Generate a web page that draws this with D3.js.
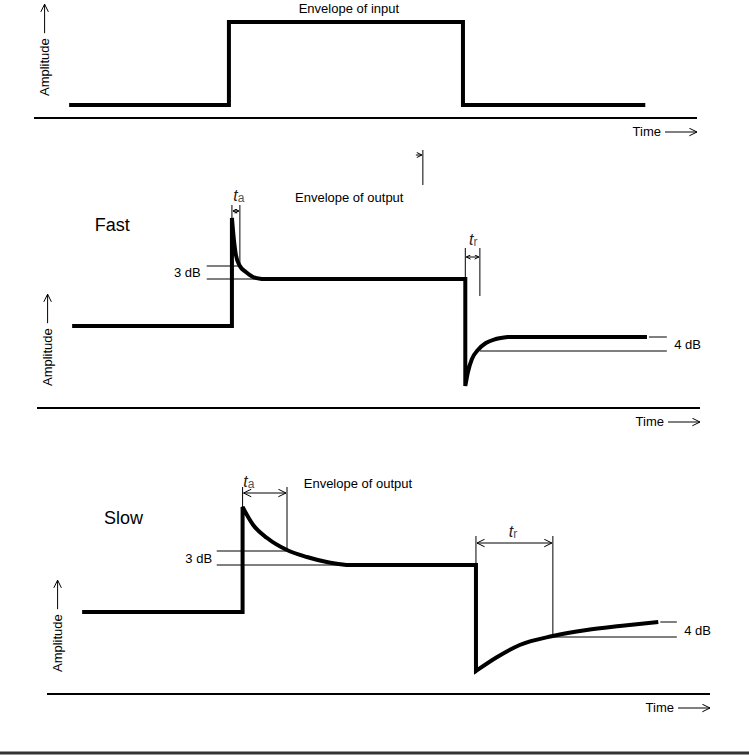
<!DOCTYPE html>
<html>
<head>
<meta charset="utf-8">
<script src="https://cdn.jsdelivr.net/npm/d3@7"></script>
<style>
  body { margin: 0; background: #fff; }
  svg { display: block; font-family: "Liberation Sans", Arial, sans-serif; }
</style>
</head>
<body>
<div id="chart"></div>
<script>
// time runs 0..100 along each time axis, amplitude is in arbitrary units above that axis
const inputEnvelope = [[5.3, 1.3], [29.4, 1.3], [29.4, 9.6], [64.7, 9.6], [64.7, 1.3], [92.2, 1.3]];

const fastBefore  = [[5.3, 8.2], [29.4, 8.2], [29.4, 19.0]];
const fastAttack  = [[29.4, 19.0], [29.7, 16.8], [30.0, 15.3], [30.6, 14.2], [31.5, 13.6], [32.6, 13.1], [33.9, 12.9]];
const fastHold    = [[33.9, 12.9], [64.6, 12.9], [64.6, 2.2]];
const fastRelease = [[64.6, 2.2], [65.0, 3.6], [65.6, 4.9], [66.5, 5.8], [67.7, 6.5], [69.2, 6.9], [71.0, 7.1]];
const fastAfter   = [[71.0, 7.1], [92.0, 7.1]];

const slowBefore  = [[5.3, 8.2], [29.5, 8.2], [29.5, 18.7]];
const slowAttack  = [[29.5, 18.7], [31.1, 16.9], [33.2, 15.6], [36.2, 14.4], [39.2, 13.7], [42.2, 13.2], [45.2, 12.9]];
const slowHold    = [[45.2, 12.9], [64.7, 12.9], [64.7, 2.3]];
const slowRelease = [[64.7, 2.3], [67.9, 3.7], [71.3, 4.9], [76.3, 5.8], [81.4, 6.4], [86.4, 6.8], [92.2, 7.2]];

// reference levels: [t from, t to, amplitude]
const fastLevels = [[25.6, 30.6, 14.2], [25.6, 33.9, 12.9], [92.3, 95.0, 7.1], [66.8, 95.0, 5.7]];
const slowLevels = [[25.6, 36.2, 14.3], [25.6, 45.2, 12.9], [92.5, 95.0, 7.2], [76.3, 95.0, 5.7]];

// bracket ticks: [t, amplitude top, amplitude bottom]
const fastTicks = [[29.4, 20.3, 19.0], [30.6, 20.3, 14.2], [64.6, 16.0, 12.9], [66.8, 16.0, 11.2]];
const slowTicks = [[29.5, 20.7, 18.7], [36.2, 20.7, 14.4], [64.7, 15.8, 12.9], [76.3, 15.8, 5.8]];

// time spans: [t from, t to, amplitude, subscript, label t, label amplitude, anchor]
const fastSpans = [[29.4, 30.6, 19.7, "a", 29.6, 21.2, "start"], [64.6, 66.8, 15.1, "r", 65.8, 16.8, "middle"]];
const slowSpans = [[29.5, 36.2, 20.1, "a", 29.6, 21.2, "start"], [64.7, 76.3, 15.1, "r", 70.3, 16.2, "middle"]];

// text labels: [text, t, amplitude, anchor, size]
const inputLabels = [["Envelope of input", 47.5, 11.0, "middle", 13]];
const fastLabels = [["Fast", 8.7, 18.3, "start", 18], ["Envelope of output", 47.1, 21.1, "middle", 13],
                    ["3 dB", 24.7, 13.55, "end", 13], ["4 dB", 96.1, 6.4, "start", 13]];
const slowLabels = [["Slow", 8.6, 17.6, "start", 18], ["Envelope of output", 46.9, 21.1, "middle", 13],
                    ["3 dB", 24.9, 13.6, "end", 13], ["4 dB", 96.1, 6.4, "start", 13]];

const width = 749, height = 755;

const svg = d3.select("#chart").append("svg")
    .attr("width", width)
    .attr("height", height);

const defs = svg.append("defs");
function addMarker(id, size) {
  defs.append("marker")
      .attr("id", id)
      .attr("viewBox", "0 0 10 10")
      .attr("refX", 9.5).attr("refY", 5)
      .attr("markerWidth", size).attr("markerHeight", size)
      .attr("markerUnits", "userSpaceOnUse")
      .attr("orient", "auto-start-reverse")
    .append("path")
      .attr("d", "M1,0.8 L9.5,5 L1,9.2")
      .attr("fill", "none")
      .attr("stroke", "#000")
      .attr("stroke-width", 10 / size);
}
addMarker("head", 9);
addMarker("headSmall", 5);
addMarker("headTiny", 6);

const panels = [
  { axisY: 118, x0: 34, signal: [[inputEnvelope, d3.curveLinear]], levels: [], ticks: [], spans: [], labels: inputLabels },
  { axisY: 408, x0: 37,
    signal: [[fastBefore, d3.curveLinear], [fastAttack, d3.curveMonotoneX], [fastHold, d3.curveLinear],
             [fastRelease, d3.curveMonotoneX], [fastAfter, d3.curveLinear]],
    levels: fastLevels, ticks: fastTicks, spans: fastSpans, labels: fastLabels, spanHead: "headSmall" },
  { axisY: 694, x0: 47,
    signal: [[slowBefore, d3.curveLinear], [slowAttack, d3.curveMonotoneX], [slowHold, d3.curveLinear],
             [slowRelease, d3.curveMonotoneX]],
    levels: slowLevels, ticks: slowTicks, spans: slowSpans, labels: slowLabels, spanHead: "head" }
];

panels.forEach(function(p, i) {
  const x = d3.scaleLinear().domain([0, 100]).range([p.x0, p.x0 + 663]);
  const y = d3.scaleLinear().domain([0, 10]).range([p.axisY, p.axisY - 100]);
  const g = svg.append("g").attr("class", "panel");

  // time axis
  g.append("line")
      .attr("x1", x(0)).attr("x2", x(100))
      .attr("y1", y(0)).attr("y2", y(0))
      .attr("stroke", "#000").attr("stroke-width", 2);

  g.append("text")
      .attr("x", x(100) - 36).attr("y", y(0) + 13)
      .attr("text-anchor", "end")
      .attr("dominant-baseline", "central")
      .attr("font-size", 13)
      .text("Time");
  g.append("line")
      .attr("x1", x(100) - 32).attr("x2", x(100))
      .attr("y1", y(0) + 14).attr("y2", y(0) + 14)
      .attr("stroke", "#000").attr("stroke-width", 1)
      .attr("marker-end", "url(#head)");

  // amplitude label, rotated, with its arrow above
  const ax = x(1.6), ay = y(2.2);
  const amp = g.append("text")
      .attr("transform", `translate(${ax},${ay}) rotate(-90)`)
      .attr("dy", "0.35em")
      .attr("font-size", 13)
      .text("Amplitude");
  const len = amp.node().getComputedTextLength();
  g.append("line")
      .attr("x1", ax).attr("x2", ax)
      .attr("y1", ay - len - 5).attr("y2", ay - len - 34)
      .attr("stroke", "#000").attr("stroke-width", 1)
      .attr("marker-end", "url(#head)");

  // thin reference levels
  g.selectAll(".level")
    .data(p.levels)
    .join("line")
      .attr("class", "level")
      .attr("x1", d => x(d[0])).attr("x2", d => x(d[1]))
      .attr("y1", d => y(d[2])).attr("y2", d => y(d[2]))
      .attr("stroke", "#000").attr("stroke-width", 1);

  g.selectAll(".tick")
    .data(p.ticks)
    .join("line")
      .attr("class", "tick")
      .attr("x1", d => x(d[0])).attr("x2", d => x(d[0]))
      .attr("y1", d => y(d[1])).attr("y2", d => y(d[2]))
      .attr("stroke", "#000").attr("stroke-width", 1);

  g.selectAll(".span")
    .data(p.spans)
    .join("line")
      .attr("class", "span")
      .attr("x1", d => x(d[0]) + 1).attr("x2", d => x(d[1]) - 1)
      .attr("y1", d => y(d[2])).attr("y2", d => y(d[2]))
      .attr("stroke", "#000").attr("stroke-width", 1)
      .attr("marker-start", `url(#${p.spanHead})`)
      .attr("marker-end", `url(#${p.spanHead})`);

  const spanText = g.selectAll(".spanLabel")
    .data(p.spans)
    .join("text")
      .attr("class", "spanLabel")
      .attr("x", d => x(d[4])).attr("y", d => y(d[5]) + 5)
      .attr("text-anchor", d => d[6]);
  spanText.append("tspan")
      .attr("font-style", "italic")
      .attr("font-size", 16)
      .attr("fill", "#222")
      .text("t");
  spanText.append("tspan")
      .attr("font-size", 12)
      .attr("fill", "#555")
      .attr("dy", 1)
      .text(d => d[3]);

  // signal envelope
  const d = p.signal.map(function(seg, k) {
    const s = d3.line().x(v => x(v[0])).y(v => y(v[1])).curve(seg[1])(seg[0]);
    return k ? s.replace(/^M/, "L") : s;
  }).join("");
  g.append("path")
      .attr("d", d)
      .attr("fill", "none")
      .attr("stroke", "#000")
      .attr("stroke-width", 4)
      .attr("stroke-linejoin", "miter");

  g.selectAll(".label")
    .data(p.labels)
    .join("text")
      .attr("class", "label")
      .attr("x", d => x(d[1])).attr("y", d => y(d[2]))
      .attr("text-anchor", d => d[3])
      .attr("dominant-baseline", "central")
      .attr("font-size", d => d[4])
      .text(d => d[0]);

  // stray marker left in the original drawing above the fast panel
  if (i === 1) {
    g.append("line")
        .attr("x1", x(58.2)).attr("x2", x(58.2))
        .attr("y1", y(25.8)).attr("y2", y(22.3))
        .attr("stroke", "#000").attr("stroke-width", 1);
    g.append("line")
        .attr("x1", x(58.2) - 7).attr("x2", x(58.2) - 1)
        .attr("y1", y(25.3)).attr("y2", y(25.3))
        .attr("stroke", "#000").attr("stroke-width", 1)
        .attr("marker-end", "url(#headTiny)");
  }
});

// frame rule at the foot of the figure
svg.append("line")
    .attr("x1", 0).attr("x2", width)
    .attr("y1", height - 2).attr("y2", height - 2)
    .attr("stroke", "#333").attr("stroke-width", 3);
</script>
</body>
</html>
